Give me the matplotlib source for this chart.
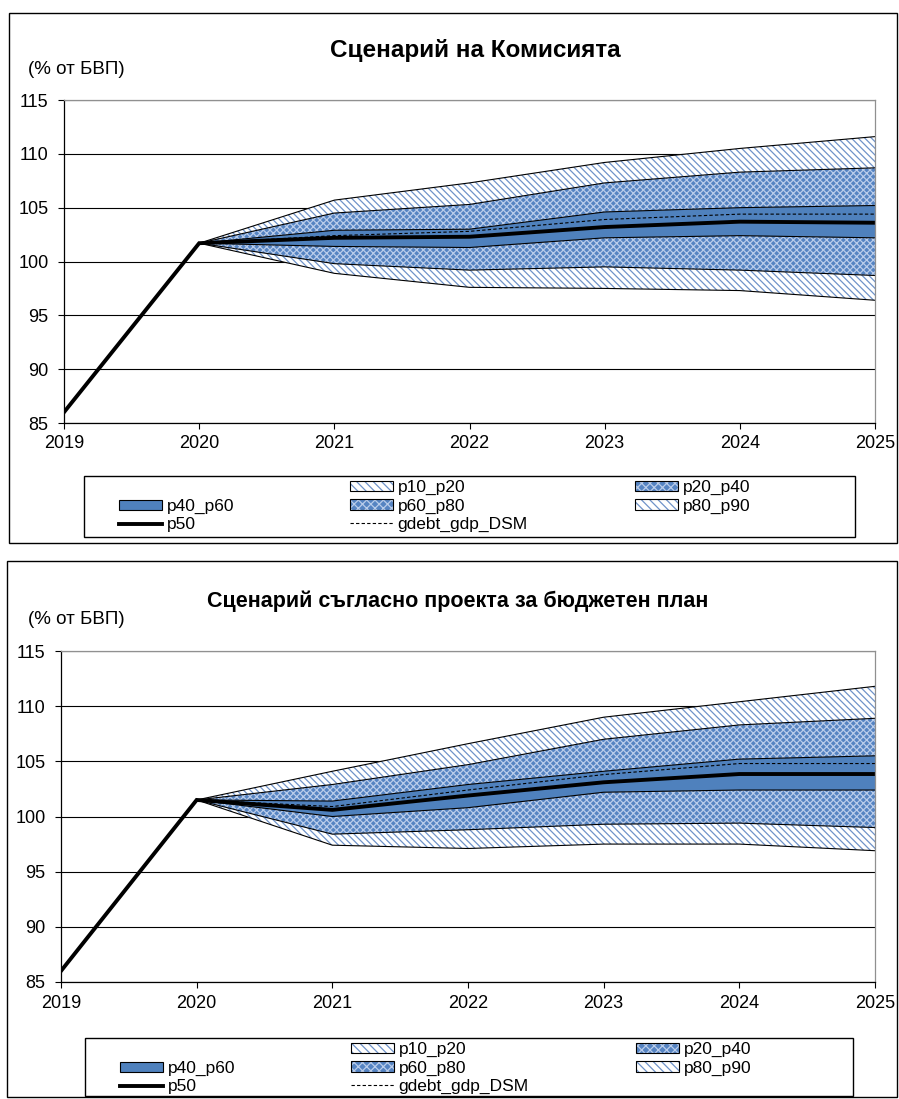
import matplotlib
matplotlib.use("Agg")
import matplotlib.pyplot as plt
from matplotlib.patches import Patch, Rectangle
from matplotlib.lines import Line2D

plt.rcParams['font.family'] = ['Liberation Sans', 'DejaVu Sans']
plt.rcParams['hatch.linewidth'] = 0.9

years = [2019, 2020, 2021, 2022, 2023, 2024, 2025]
band_years = years[1:]

# Commission scenario
com_p10 = [101.7, 98.9, 97.6, 97.5, 97.3, 96.4]
com_p20 = [101.7, 99.8, 99.2, 99.5, 99.2, 98.7]
com_p40 = [101.7, 101.4, 101.3, 102.2, 102.4, 102.2]
com_p60 = [101.7, 102.9, 103.0, 104.6, 105.0, 105.2]
com_p80 = [101.7, 104.5, 105.3, 107.3, 108.3, 108.7]
com_p90 = [101.7, 105.7, 107.3, 109.2, 110.5, 111.6]
com_dsm = [101.7, 102.4, 102.8, 103.9, 104.4, 104.4]
com_p50 = [86.0, 101.7, 102.2, 102.3, 103.2, 103.7, 103.6]

# Draft budgetary plan scenario
dbp_p10 = [101.5, 97.4, 97.1, 97.5, 97.5, 96.9]
dbp_p20 = [101.5, 98.4, 98.8, 99.3, 99.4, 99.0]
dbp_p40 = [101.5, 100.0, 100.8, 102.2, 102.4, 102.4]
dbp_p60 = [101.5, 101.4, 102.9, 104.1, 105.2, 105.5]
dbp_p80 = [101.5, 102.9, 104.7, 107.0, 108.3, 108.9]
dbp_p90 = [101.5, 104.1, 106.6, 109.0, 110.4, 111.8]
dbp_dsm = [101.5, 100.9, 102.4, 103.8, 104.8, 104.8]
dbp_p50 = [86.0, 101.5, 100.6, 101.9, 103.1, 103.85, 103.85]

titles = ["Сценарий на Комисията", "Сценарий съгласно проекта за бюджетен план"]
unit_label = "(% от БВП)"
yticks = [85, 90, 95, 100, 105, 110, 115]
labels = ["p10_p20", "p20_p40", "p40_p60", "p60_p80", "p80_p90", "p50", "gdebt_gdp_DSM"]

DARK = '#4F81BD'
CROSS_FACE = '#5684C2'
CROSS_HATCH = '#B9CCEA'
DIAG = '#6F93C9'

W, H = 899, 1099
fig = plt.figure(figsize=(W / 100, H / 100), dpi=100)


def fx(px):
    return px / W


def fy(py):
    return 1 - py / H


def draw(ax, p10, p20, p40, p60, p80, p90, dsm, p50):
    diag = dict(facecolor='white', edgecolor=DIAG, hatch='\\\\\\\\\\', linewidth=0)
    cross = dict(facecolor=CROSS_FACE, edgecolor=CROSS_HATCH, hatch='xxxxx', linewidth=0)
    ax.fill_between(band_years, p10, p20, **diag, zorder=2)
    ax.fill_between(band_years, p20, p40, **cross, zorder=2)
    ax.fill_between(band_years, p40, p60, facecolor=DARK, linewidth=0, zorder=2)
    ax.fill_between(band_years, p60, p80, **cross, zorder=2)
    ax.fill_between(band_years, p80, p90, **diag, zorder=2)
    for s in (p10, p20, p40, p60, p80, p90):
        ax.plot(band_years, s, color='black', lw=0.8, zorder=3)
    ax.plot(band_years, dsm, color='black', lw=0.8, ls=(0, (3, 2)), zorder=4)
    ax.plot(years, p50, color='black', lw=2.8, zorder=5, solid_joinstyle='miter')
    ax.set_xlim(2019, 2025)
    ax.set_ylim(85, 115)
    ax.set_yticks(yticks)
    ax.set_xticks(years)
    ax.set_xticklabels([str(y) for y in years])
    for y in yticks:
        ax.axhline(y, color='black', lw=0.8, zorder=1)
    ax.tick_params(axis='y', direction='out', length=4, width=0.8, pad=7, labelsize=13)
    ax.tick_params(axis='x', direction='out', length=4, width=0.8, pad=5, labelsize=13)
    ax.spines['left'].set_color('black')
    ax.spines['bottom'].set_color('black')
    ax.spines['top'].set_color('#909090')
    ax.spines['right'].set_color('#909090')
    for sp in ax.spines.values():
        sp.set_linewidth(0.9)
        sp.set_zorder(6)


def legend_block(top, left, right, bottom):
    fig.patches.append(Rectangle((fx(left), fy(bottom)), fx(right - left), (bottom - top) / H,
                                 transform=fig.transFigure, fill=False, edgecolor='black', lw=1.0))
    border = Patch(facecolor='none', edgecolor='black', lw=0.8)
    h_diag = (Patch(facecolor='white', edgecolor=DIAG, hatch='\\\\\\\\', lw=0), border)
    h_cross = (Patch(facecolor=CROSS_FACE, edgecolor=CROSS_HATCH, hatch='xxxx', lw=0), border)
    h_dark = Patch(facecolor=DARK, edgecolor='black', lw=0.8)
    h_p50 = Line2D([], [], color='black', lw=2.8)
    h_dsm = Line2D([], [], color='black', lw=0.8, ls=(0, (3, 2)))
    row = 19
    kw = dict(loc='upper left', frameon=False, fontsize=12.5, borderpad=0, borderaxespad=0,
              handlelength=2.5, handleheight=0.55, handletextpad=0.25, labelspacing=0.19,
              bbox_transform=fig.transFigure)
    first_row_top = top + 4
    fig.legend([h_dark, h_p50], [labels[2], labels[5]],
               bbox_to_anchor=(fx(left + 35), fy(first_row_top + row)), **kw)
    fig.legend([h_diag, h_cross, h_dsm], [labels[0], labels[3], labels[6]],
               bbox_to_anchor=(fx(left + 266), fy(first_row_top)), **kw)
    fig.legend([h_cross, h_diag], [labels[1], labels[4]],
               bbox_to_anchor=(fx(left + 551), fy(first_row_top)), **kw)


# frames
for (l, t, r, b) in [(9, 13, 897, 543), (7, 561, 897, 1097)]:
    fig.patches.append(Rectangle((fx(l), fy(b)), fx(r - l), (b - t) / H,
                                 transform=fig.transFigure, fill=False, edgecolor='black', lw=1.0))

ax1 = fig.add_axes([fx(64), fy(423), fx(875 - 64), (423 - 100) / H])
draw(ax1, com_p10, com_p20, com_p40, com_p60, com_p80, com_p90, com_dsm, com_p50)
ax2 = fig.add_axes([fx(61), fy(982), fx(875 - 61), (982 - 651) / H])
draw(ax2, dbp_p10, dbp_p20, dbp_p40, dbp_p60, dbp_p80, dbp_p90, dbp_dsm, dbp_p50)

fig.text(fx(475), fy(50), titles[0], ha='center', va='center', fontsize=17.5, fontweight='bold')
fig.text(fx(458), fy(601), titles[1], ha='center', va='center', fontsize=15.5, fontweight='bold')
fig.text(fx(28), fy(70), unit_label, ha='left', va='center', fontsize=13.5)
fig.text(fx(28), fy(620), unit_label, ha='left', va='center', fontsize=13.5)

legend_block(476, 84, 855, 537)
legend_block(1038, 85, 853, 1096)

fig.savefig('out.png', dpi=100)
